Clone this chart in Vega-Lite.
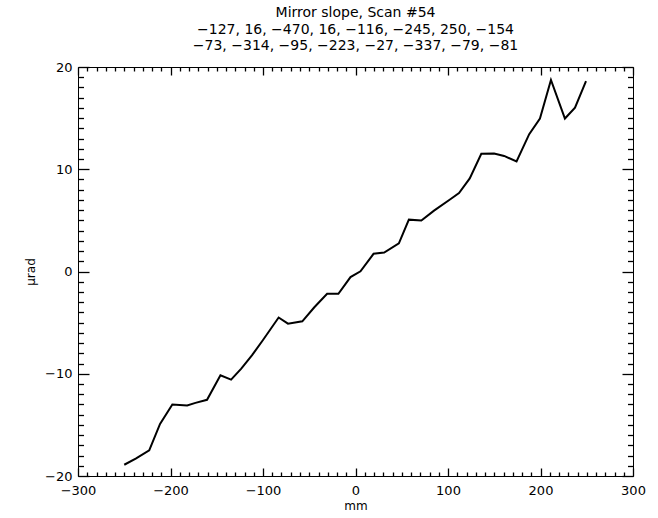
{
  "$schema": "https://vega.github.io/schema/vega-lite/v6.json",
  "autosize": "none",
  "width": 555,
  "height": 409,
  "padding": {"left": 78, "top": 67, "right": 25, "bottom": 42},
  "background": "white",
  "config": {
    "view": {"stroke": "black", "strokeWidth": 1},
    "font": "DejaVu Sans",
    "axis": {"domain": false, "grid": false, "tickColor": "black", "tickWidth": 1.3, "labelColor": "black", "titleColor": "black", "labelFont": "DejaVu Sans", "titleFont": "DejaVu Sans", "labelFontSize": 13, "titleFontSize": 12, "titleFontWeight": "normal", "labelOverlap": false, "labelBound": false, "labelFlush": false}
  },
  "title": {
    "text": ["Mirror slope, Scan #54", "−127, 16, −470, 16, −116, −245, 250, −154", "−73, −314, −95, −223, −27, −337, −79, −81"],
    "font": "DejaVu Sans",
    "fontSize": 14,
    "fontWeight": "normal",
    "lineHeight": 16.5,
    "color": "black",
    "anchor": "middle",
    "offset": 8
  },
  "data": {"values": [
    {"mm": -250, "urad": -18.9},
    {"mm": -237.6, "urad": -18.3},
    {"mm": -223, "urad": -17.5},
    {"mm": -211.3, "urad": -14.9},
    {"mm": -198, "urad": -13.0},
    {"mm": -182, "urad": -13.1},
    {"mm": -173, "urad": -12.85},
    {"mm": -160.5, "urad": -12.55},
    {"mm": -146, "urad": -10.15},
    {"mm": -134.5, "urad": -10.57},
    {"mm": -123.5, "urad": -9.5},
    {"mm": -112, "urad": -8.2},
    {"mm": -100, "urad": -6.7},
    {"mm": -83.1, "urad": -4.5},
    {"mm": -73, "urad": -5.1},
    {"mm": -57.5, "urad": -4.87},
    {"mm": -44.5, "urad": -3.5},
    {"mm": -30.7, "urad": -2.18},
    {"mm": -18.5, "urad": -2.18},
    {"mm": -5.4, "urad": -0.55},
    {"mm": 5.4, "urad": 0.02},
    {"mm": 19.5, "urad": 1.73},
    {"mm": 31, "urad": 1.85},
    {"mm": 46.9, "urad": 2.76},
    {"mm": 57.7, "urad": 5.07},
    {"mm": 71.2, "urad": 4.98},
    {"mm": 84.9, "urad": 5.95},
    {"mm": 102.9, "urad": 7.09},
    {"mm": 111.9, "urad": 7.68},
    {"mm": 123.5, "urad": 9.1},
    {"mm": 136, "urad": 11.52},
    {"mm": 149.8, "urad": 11.54},
    {"mm": 160.7, "urad": 11.3},
    {"mm": 174.1, "urad": 10.76},
    {"mm": 187.8, "urad": 13.43},
    {"mm": 199.4, "urad": 14.96},
    {"mm": 211.3, "urad": 18.73},
    {"mm": 226.4, "urad": 14.96},
    {"mm": 237.3, "urad": 16.03},
    {"mm": 249.2, "urad": 18.63}
  ]},
  "resolve": {"axis": {"x": "independent", "y": "independent"}},
  "layer": [
    {
      "mark": {"type": "line", "color": "black", "strokeWidth": 2, "strokeJoin": "miter"},
      "encoding": {
        "x": {"field": "mm", "type": "quantitative", "scale": {"domain": [-300, 300], "nice": false, "zero": false},
          "axis": {"orient": "bottom", "title": "mm", "titlePadding": 3,
            "values": [-300, -200, -100, 0, 100, 200, 300],
            "tickSize": -8, "labelPadding": 16}},
        "y": {"field": "urad", "type": "quantitative", "scale": {"domain": [-20, 20], "nice": false, "zero": false},
          "axis": {"orient": "left", "title": "μrad", "titlePadding": 7,
            "values": [-20, -10, 0, 10, 20],
            "tickSize": -11, "labelPadding": 17}}
      }
    },
    {
      "mark": {"type": "line", "opacity": 0},
      "encoding": {
        "x": {"field": "mm", "type": "quantitative",
          "axis": {"orient": "top", "title": null, "labels": false, "values": [-300, -200, -100, 0, 100, 200, 300], "tickSize": -8}},
        "y": {"field": "urad", "type": "quantitative",
          "axis": {"orient": "right", "title": null, "labels": false, "values": [-20, -10, 0, 10, 20], "tickSize": -11}}
      }
    },
    {
      "mark": {"type": "line", "opacity": 0},
      "encoding": {
        "x": {"field": "mm", "type": "quantitative",
          "axis": {"orient": "bottom", "title": null, "labels": false,
            "values": [-290,-280,-270,-260,-250,-240,-230,-220,-210,-190,-180,-170,-160,-150,-140,-130,-120,-110,-90,-80,-70,-60,-50,-40,-30,-20,-10,10,20,30,40,50,60,70,80,90,110,120,130,140,150,160,170,180,190,210,220,230,240,250,260,270,280,290],
            "tickSize": -4}},
        "y": {"field": "urad", "type": "quantitative",
          "axis": {"orient": "left", "title": null, "labels": false,
            "values": [-19,-18,-17,-16,-15,-14,-13,-12,-11,-9,-8,-7,-6,-5,-4,-3,-2,-1,1,2,3,4,5,6,7,8,9,11,12,13,14,15,16,17,18,19],
            "tickSize": -5.5}}
      }
    },
    {
      "mark": {"type": "line", "opacity": 0},
      "encoding": {
        "x": {"field": "mm", "type": "quantitative",
          "axis": {"orient": "top", "title": null, "labels": false,
            "values": [-290,-280,-270,-260,-250,-240,-230,-220,-210,-190,-180,-170,-160,-150,-140,-130,-120,-110,-90,-80,-70,-60,-50,-40,-30,-20,-10,10,20,30,40,50,60,70,80,90,110,120,130,140,150,160,170,180,190,210,220,230,240,250,260,270,280,290],
            "tickSize": -4}},
        "y": {"field": "urad", "type": "quantitative",
          "axis": {"orient": "right", "title": null, "labels": false,
            "values": [-19,-18,-17,-16,-15,-14,-13,-12,-11,-9,-8,-7,-6,-5,-4,-3,-2,-1,1,2,3,4,5,6,7,8,9,11,12,13,14,15,16,17,18,19],
            "tickSize": -5.5}}
      }
    }
  ]
}
